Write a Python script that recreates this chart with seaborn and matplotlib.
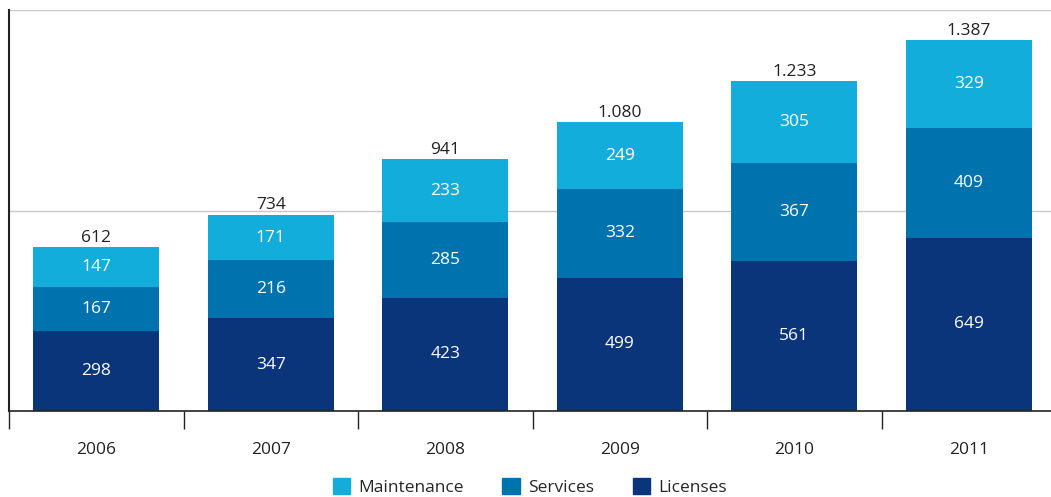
import numpy as np
import pandas as pd
import matplotlib.pyplot as plt
import seaborn as sns
from matplotlib.patches import Patch

years = ["2006", "2007", "2008", "2009", "2010", "2011"]
licenses = [298, 347, 423, 499, 561, 649]
services = [167, 216, 285, 332, 367, 409]
maintenance = [147, 171, 233, 249, 305, 329]

c_lic = "#0a357a"
c_srv = "#0073ae"
c_mnt = "#13addc"

df = pd.DataFrame({"year": years, "Licenses": licenses,
                   "Services": services, "Maintenance": maintenance})
df["base_mnt"] = df["Licenses"] + df["Services"]
df["total"] = df["base_mnt"] + df["Maintenance"]

sns.set_style("white")
plt.rcParams["font.family"] = ["Open Sans", "DejaVu Sans"]

fig = plt.figure(figsize=(10.51, 4.97), dpi=100)
ax = fig.add_axes([9 / 1051, 86 / 497, 1047 / 1051, 401 / 497])

w = 0.72
fs = 12.5
sns.barplot(data=df, x="year", y="Licenses", color=c_lic, width=w,
            saturation=1, linewidth=0, ax=ax)
sns.barplot(data=df, x="year", y="Services", bottom=df["Licenses"],
            color=c_srv, width=w, saturation=1, linewidth=0, ax=ax)
sns.barplot(data=df, x="year", y="Maintenance", bottom=df["base_mnt"],
            color=c_mnt, width=w, saturation=1, linewidth=0, ax=ax)

for i, row in df.iterrows():
    ax.text(i, row["Licenses"] / 2, str(row["Licenses"]), ha="center",
            va="center", color="white", fontsize=fs)
    ax.text(i, row["Licenses"] + row["Services"] / 2, str(row["Services"]),
            ha="center", va="center", color="white", fontsize=fs)
    ax.text(i, row["base_mnt"] + row["Maintenance"] / 2, str(row["Maintenance"]),
            ha="center", va="center", color="white", fontsize=fs)
    ax.text(i, row["total"] + 5, f"{row['total']:,}".replace(",", "."),
            ha="center", va="bottom", color="#222222", fontsize=fs)

ax.set_ylim(0, 1500)
ax.set_xlim(-0.5, 5.5)
ax.set_yticks([750, 1500])
ax.set_yticklabels([])
ax.tick_params(axis="y", length=0)
ax.grid(axis="y", color="#c8c8c8", linewidth=1)
ax.set_axisbelow(True)

ax.set_xticks(np.arange(len(years)))
ax.set_xticklabels(years, fontsize=fs, color="#222222")
ax.set_xticks(np.arange(len(years)) - 0.5, minor=True)
ax.tick_params(axis="x", which="major", bottom=False, length=0, pad=22)
ax.tick_params(axis="x", which="minor", bottom=True, direction="out",
               length=13, width=1, color="#222222")
ax.set_xlabel("")
ax.set_ylabel("")

for s in ["top", "right"]:
    ax.spines[s].set_visible(False)
ax.spines["left"].set_color("#222222")
ax.spines["left"].set_linewidth(1.5)
ax.spines["bottom"].set_color("#222222")
ax.spines["bottom"].set_linewidth(1.2)

handles = [Patch(color=c_mnt, label="Maintenance"),
           Patch(color=c_srv, label="Services"),
           Patch(color=c_lic, label="Licenses")]
fig.legend(handles=handles, loc="center", bbox_to_anchor=(530 / 1051, 1 - 487 / 497),
           ncol=3, frameon=False, fontsize=fs, handlelength=1.0, handleheight=1.0,
           handletextpad=0.5, columnspacing=2.2)

fig.savefig("out.png", dpi=100)
